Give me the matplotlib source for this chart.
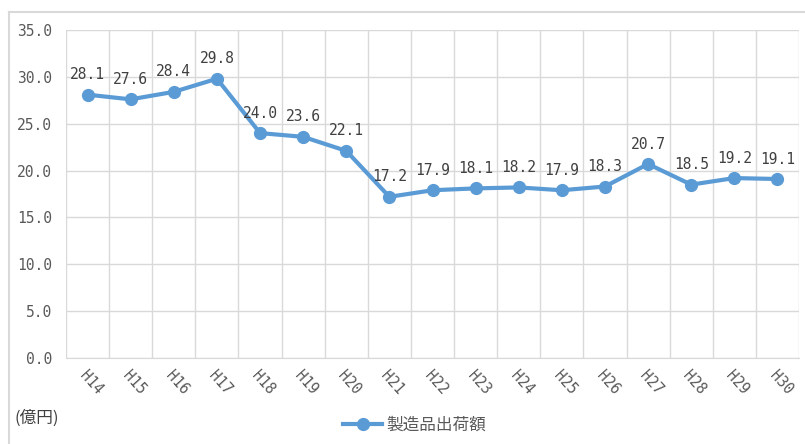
import matplotlib
matplotlib.use("Agg")
import matplotlib.pyplot as plt
from matplotlib.lines import Line2D

plt.rcParams['font.family'] = ['Noto Sans CJK JP', 'DejaVu Sans']
MONO = ['DejaVu Sans Mono', 'DejaVu Sans']

years = ["H14", "H15", "H16", "H17", "H18", "H19", "H20", "H21", "H22",
         "H23", "H24", "H25", "H26", "H27", "H28", "H29", "H30"]
shipments = [28.1, 27.6, 28.4, 29.8, 24.0, 23.6, 22.1, 17.2, 17.9,
             18.1, 18.2, 17.9, 18.3, 20.7, 18.5, 19.2, 19.1]
series_name = "製造品出荷額"
unit_label = "(億円)"
y_ticks = [0, 5, 10, 15, 20, 25, 30, 35]

line_color = "#5B9BD5"
grid_color = "#D9D9D9"
text_color = "#595959"

W, H = 805, 444
fig = plt.figure(figsize=(W / 100, H / 100), dpi=100)
ax = fig.add_axes([66 / W, 1 - 358 / H, (799 - 66) / W, (358 - 30) / H])

x = list(range(len(years)))
ax.plot(x, shipments, color=line_color, lw=3, marker='o', ms=8.5,
        markerfacecolor=line_color, markeredgecolor=line_color,
        solid_capstyle='round', label=series_name, zorder=3)

for xi, v in zip(x, shipments):
    ax.annotate(f"{v:.1f}", (xi, v), xytext=(0, 9), textcoords='offset points',
                ha='center', va='bottom', fontsize=10.5, color="#404040",
                family=MONO)

ax.set_xlim(-0.5, len(years) - 0.5)
ax.set_ylim(0, 35)
ax.set_yticks(y_ticks)
ax.set_yticklabels([f"{t:.1f}" for t in y_ticks], fontsize=10.5, color=text_color,
                   family=MONO)
ax.set_xticks(x)
ax.set_xticklabels(years, rotation=-48, ha='left', va='top',
                   rotation_mode='anchor', fontsize=10.5, color=text_color,
                   family=MONO)
ax.set_xticks([i - 0.5 for i in range(len(years) + 1)], minor=True)
ax.tick_params(axis='both', which='both', length=0)
ax.tick_params(axis='x', which='major', pad=7)
ax.tick_params(axis='y', pad=10)

ax.grid(True, axis='y', which='major', color=grid_color, lw=1)
ax.grid(True, axis='x', which='minor', color=grid_color, lw=1)
ax.grid(False, axis='x', which='major')
ax.set_axisbelow(True)
for side in ['top', 'right', 'left']:
    ax.spines[side].set_visible(False)
ax.spines['bottom'].set_color(grid_color)

# chart area border (left and top edges)
fig.add_artist(Line2D([8.5 / W, 8.5 / W], [0, 1 - 12.5 / H], transform=fig.transFigure,
                      color=grid_color, lw=1.5))
fig.add_artist(Line2D([8.5 / W, 1], [1 - 12.5 / H, 1 - 12.5 / H], transform=fig.transFigure,
                      color=grid_color, lw=1.5))

fig.text(15 / W, 1 - 418 / H, unit_label, fontsize=12, color="#404040",
         ha='left', va='center')

fig.legend(handles=[Line2D([], [], color=line_color, lw=3, marker='o', ms=8.5)],
           labels=[series_name], loc='center', bbox_to_anchor=(415 / W, 1 - 425 / H),
           frameon=False, fontsize=12, labelcolor=text_color, handlelength=2.3,
           handletextpad=0.3)

fig.savefig("out.png", dpi=100)
